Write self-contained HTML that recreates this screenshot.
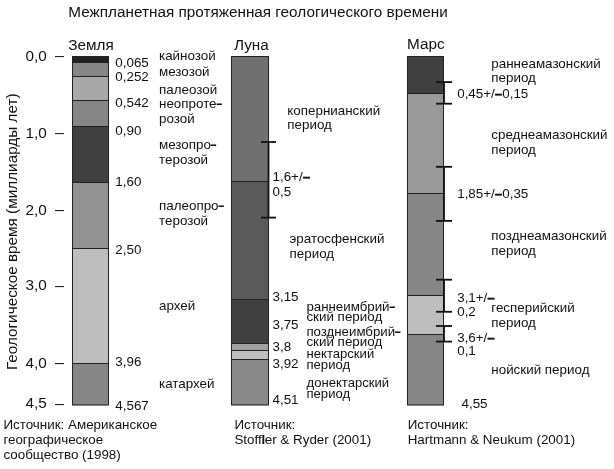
<!DOCTYPE html>
<html lang="ru"><head><meta charset="utf-8"><title>Межпланетная протяженная геологического времени</title>
<style>
html,body{margin:0;padding:0;background:#fff;}
body{width:614px;height:469px;overflow:hidden;}
svg{display:block;}
text{font-family:"Liberation Sans",Arial,sans-serif;fill:#111;}
.b{font-size:15.3px;}
.d{font-weight:bold;stroke:#111;stroke-width:0.4px;}
.h{font-weight:bold;}
.q{font-size:13.1px;}
.s{font-size:13.4px;}
.m{font-size:13.4px;}
</style></head><body>
<svg width="614" height="469" viewBox="0 0 614 469">
<rect width="614" height="469" fill="#fff"/>

<text x="68.3" y="17.4" class="b" >Межпланетная протяженная геологического времени</text>
<text x="68.3" y="49.7" class="b" >Земля</text>
<text x="234" y="49.6" class="b" >Луна</text>
<text x="407" y="49.3" class="b" >Марс</text>
<text x="25.6" y="60.6" class="b" >0,0</text>
<rect x="55" y="56" width="9" height="1.1" fill="#222"/>
<text x="25.6" y="137.7" class="b" >1,0</text>
<rect x="55" y="133" width="9" height="1.1" fill="#222"/>
<text x="25.6" y="214.7" class="b" >2,0</text>
<rect x="55" y="210" width="9" height="1.1" fill="#222"/>
<text x="25.6" y="290.3" class="b" >3,0</text>
<rect x="55" y="286" width="9" height="1.1" fill="#222"/>
<text x="25.6" y="367.6" class="b" >4,0</text>
<rect x="55" y="363" width="9" height="1.1" fill="#222"/>
<text x="25.6" y="408.4" class="b" >4,5</text>
<rect x="55" y="404" width="9" height="1.1" fill="#222"/>
<text class="b" transform="translate(16.5,370) rotate(-90)">Геологическое время (миллиарды лет)</text>
<rect x="72" y="56.0" width="37.0" height="6.6" fill="#222"/>
<rect x="72" y="62.6" width="37.0" height="13.6" fill="#868686"/>
<rect x="72" y="76.2" width="37.0" height="24.2" fill="#a8a8a8"/>
<rect x="72" y="100.4" width="37.0" height="26.0" fill="#868686"/>
<rect x="72" y="126.4" width="37.0" height="56.1" fill="#404040"/>
<rect x="72" y="182.5" width="37.0" height="65.9" fill="#929292"/>
<rect x="72" y="248.4" width="37.0" height="114.9" fill="#bebebe"/>
<rect x="72" y="363.3" width="37.0" height="42.1" fill="#868686"/>
<rect x="72" y="62" width="37.0" height="1" fill="#222"/>
<rect x="72" y="76" width="37.0" height="1" fill="#222"/>
<rect x="72" y="100" width="37.0" height="1" fill="#222"/>
<rect x="72" y="126" width="37.0" height="1" fill="#222"/>
<rect x="72" y="182" width="37.0" height="1" fill="#222"/>
<rect x="72" y="248" width="37.0" height="1" fill="#222"/>
<rect x="72" y="363" width="37.0" height="1" fill="#222"/>
<rect x="72.5" y="56.5" width="36.0" height="348.4" fill="none" stroke="#222" stroke-width="1"/>
<text x="115.3" y="66.5" class="s" >0,065</text>
<text x="115.3" y="80.8" class="s" >0,252</text>
<text x="115.3" y="106.6" class="s" >0,542</text>
<text x="115.3" y="134.8" class="s" >0,90</text>
<text x="115.3" y="186.3" class="s" >1,60</text>
<text x="115.3" y="253.6" class="s" >2,50</text>
<text x="115.3" y="365.7" class="s" >3,96</text>
<text x="115.3" y="409.6" class="s" >4,567</text>
<text x="159.0" y="60.0" class="s" >кайнозой</text>
<text x="159.0" y="75.6" class="s" >мезозой</text>
<text x="159.0" y="94.0" class="s" >палеозой</text>
<text x="159.0" y="108.4" class="s" >неопроте<tspan class="h" dx="-0.9" textLength="7.0" lengthAdjust="spacingAndGlyphs">-</tspan></text>
<text x="159.0" y="122.9" class="s" >розой</text>
<text x="159.0" y="149.2" class="s" >мезопро<tspan class="h" dx="-0.9" textLength="7.0" lengthAdjust="spacingAndGlyphs">-</tspan></text>
<text x="159.0" y="163.9" class="s" >терозой</text>
<text x="159.0" y="209.7" class="s" >палеопро<tspan class="h" dx="-0.9" textLength="7.0" lengthAdjust="spacingAndGlyphs">-</tspan></text>
<text x="159.0" y="224.8" class="s" >терозой</text>
<text x="159.0" y="309.9" class="s" >архей</text>
<text x="159.0" y="388.3" class="s" >катархей</text>
<text x="3.4" y="429.4" class="m" >Источник: Американское</text>
<text x="3.4" y="444.2" class="m" >географическое</text>
<text x="3.4" y="459.0" class="m" >сообщество (1998)</text>
<rect x="231" y="56.0" width="38.0" height="125.1" fill="#707070"/>
<rect x="231" y="181.1" width="38.0" height="118.7" fill="#5a5a5a"/>
<rect x="231" y="299.8" width="38.0" height="43.5" fill="#404040"/>
<rect x="231" y="343.3" width="38.0" height="7.2" fill="#a0a0a0"/>
<rect x="231" y="350.5" width="38.0" height="8.6" fill="#c0c0c0"/>
<rect x="231" y="359.1" width="38.0" height="46.3" fill="#8a8a8a"/>
<rect x="231" y="181" width="38.0" height="1" fill="#222"/>
<rect x="231" y="299" width="38.0" height="1" fill="#222"/>
<rect x="231" y="343" width="38.0" height="1" fill="#222"/>
<rect x="231" y="350" width="38.0" height="1" fill="#222"/>
<rect x="231" y="359" width="38.0" height="1" fill="#222"/>
<rect x="231.5" y="56.5" width="37.0" height="348.4" fill="none" stroke="#222" stroke-width="1"/>
<rect x="267.60" y="142.0" width="1.8" height="75.6" fill="#111"/>
<rect x="261" y="141.10" width="15" height="1.8" fill="#111"/>
<rect x="261" y="216.70" width="15" height="1.8" fill="#111"/>
<text x="272.5" y="180.8" class="s" >1,6+/<tspan class="d">–</tspan></text>
<text x="272.5" y="195.6" class="s" >0,5</text>
<text x="272.5" y="301.2" class="s" >3,15</text>
<text x="272.5" y="328.6" class="s" >3,75</text>
<text x="272.5" y="350.7" class="s" >3,8</text>
<text x="272.5" y="368.3" class="s" >3,92</text>
<text x="272.5" y="404.3" class="s" >4,51</text>
<text x="287.3" y="114.7" class="s" >копернианский</text>
<text x="287.3" y="129.3" class="s" >период</text>
<text x="289.5" y="242.8" class="s" >эратосфенский</text>
<text x="289.5" y="257.6" class="s" >период</text>
<text x="306.4" y="311.4" class="s" style="font-size:13.3px">раннеимбрий<tspan class="h" dx="-0.9" textLength="7.0" lengthAdjust="spacingAndGlyphs">-</tspan></text>
<text x="306.4" y="321.0" class="s" >ский период</text>
<text x="306.4" y="335.6" class="s" style="font-size:13.25px">позднеимбрий<tspan class="h" dx="-0.9" textLength="7.0" lengthAdjust="spacingAndGlyphs">-</tspan></text>
<text x="306.4" y="345.7" class="s" >ский период</text>
<text x="306.5" y="357.8" class="q" >нектарский</text>
<text x="306.5" y="368.8" class="q" >период</text>
<text x="306.5" y="386.5" class="q" >донектарский</text>
<text x="306.5" y="397.7" class="q" >период</text>
<text x="234.4" y="429.4" class="m" >Источник:</text>
<text x="234.4" y="444.1" class="m" >Stoff<tspan font-weight="bold" dx="-0.2">l</tspan><tspan dx="-0.5">er &amp; Ryder (2001)</tspan></text>
<rect x="407" y="56.0" width="37.0" height="37.5" fill="#404040"/>
<rect x="407" y="93.5" width="37.0" height="100.0" fill="#999"/>
<rect x="407" y="193.5" width="37.0" height="102.0" fill="#868686"/>
<rect x="407" y="295.5" width="37.0" height="39.0" fill="#bebebe"/>
<rect x="407" y="334.5" width="37.0" height="70.9" fill="#868686"/>
<rect x="407" y="93" width="37.0" height="1" fill="#222"/>
<rect x="407" y="193" width="37.0" height="1" fill="#222"/>
<rect x="407" y="295" width="37.0" height="1" fill="#222"/>
<rect x="407" y="334" width="37.0" height="1" fill="#222"/>
<rect x="407.5" y="56.5" width="36.0" height="348.4" fill="none" stroke="#222" stroke-width="1"/>
<rect x="443.10" y="82.1" width="1.8" height="21.6" fill="#111"/>
<rect x="436" y="81.20" width="16" height="1.8" fill="#111"/>
<rect x="436" y="102.80" width="16" height="1.8" fill="#111"/>
<rect x="443.10" y="166.8" width="1.8" height="54.1" fill="#111"/>
<rect x="436" y="165.90" width="16" height="1.8" fill="#111"/>
<rect x="436" y="220.00" width="16" height="1.8" fill="#111"/>
<rect x="443.10" y="279.7" width="1.8" height="32.1" fill="#111"/>
<rect x="436" y="278.80" width="16" height="1.8" fill="#111"/>
<rect x="436" y="310.90" width="16" height="1.8" fill="#111"/>
<rect x="443.10" y="326.0" width="1.8" height="15.6" fill="#111"/>
<rect x="436" y="325.10" width="16" height="1.8" fill="#111"/>
<rect x="436" y="340.70" width="16" height="1.8" fill="#111"/>
<text x="457.2" y="98.3" class="s" >0,45+/<tspan class="d">–</tspan>0,15</text>
<text x="457.2" y="198.4" class="s" >1,85+/<tspan class="d">–</tspan>0,35</text>
<text x="457.2" y="302.0" class="s" >3,1+/<tspan class="d">–</tspan></text>
<text x="457.2" y="316.2" class="s" >0,2</text>
<text x="457.2" y="342.0" class="s" >3,6+/<tspan class="d">–</tspan></text>
<text x="457.2" y="355.3" class="s" >0,1</text>
<text x="461.5" y="408.0" class="s" >4,55</text>
<text x="491.3" y="67.6" class="s" >раннеамазонский</text>
<text x="491.3" y="82.0" class="s" >период</text>
<text x="491.3" y="139.2" class="s" >среднеамазонский</text>
<text x="491.3" y="153.9" class="s" >период</text>
<text x="491.3" y="240.1" class="s" >позднеамазонский</text>
<text x="491.3" y="254.9" class="s" >период</text>
<text x="491.3" y="312.1" class="s" >гесперийский</text>
<text x="491.3" y="327.3" class="s" >период</text>
<text x="491.3" y="374.0" class="s" >нойский период</text>
<text x="407.7" y="429.4" class="m" >Источник:</text>
<text x="407.7" y="444.1" class="m" >Hartmann &amp; Neukum (2001)</text>
</svg></body></html>
